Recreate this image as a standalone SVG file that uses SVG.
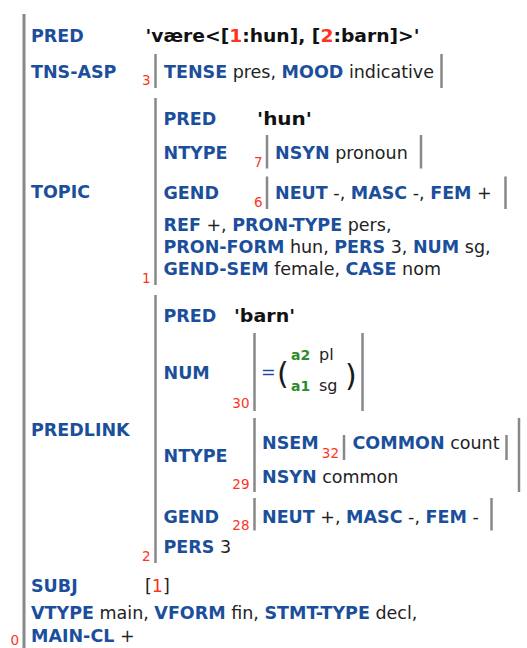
<svg xmlns="http://www.w3.org/2000/svg" width="527" height="648" viewBox="0 0 527 648">
<style>
text{font-family:"DejaVu Sans","Liberation Sans",sans-serif;font-size:17.5px;fill:#222}
.l{font-weight:bold;fill:#1b4f9c}
.p{font-weight:bold;font-size:18.5px;fill:#111}
.n{font-size:13.5px;fill:#ff3322}
.r{fill:#ff3322}
.g{font-weight:bold;font-size:14px;fill:#2e8b2e}
.bar{stroke:#888;stroke-width:2.5;fill:none}
.obar{stroke:#888;stroke-width:3;fill:none}
.par{font-size:30px;fill:#1a1a1a}
</style>
<rect width="527" height="648" fill="#fff"/>
<g id="f0">
  <line class="obar" x1="24" y1="14" x2="24" y2="648"/>
  <text class="n" x="19" y="645" text-anchor="end">0</text>
  <text x="31" y="41.5" class="l">PRED</text>
  <text x="145.5" y="41.5" class="p" textLength="274" lengthAdjust="spacingAndGlyphs">'være&lt;[<tspan class="r">1</tspan>:hun], [<tspan class="r">2</tspan>:barn]&gt;'</text>
  <text x="31" y="78" class="l">TNS-ASP</text>
  <text x="31" y="198" class="l">TOPIC</text>
  <text x="31" y="436" class="l">PREDLINK</text>
  <text x="31" y="592" class="l">SUBJ</text>
  <text x="145" y="592">[<tspan class="r">1</tspan>]</text>
  <text x="31" y="619"><tspan class="l">VTYPE</tspan> main, <tspan class="l">VFORM</tspan> fin, <tspan class="l">STMT-TYPE</tspan> decl,</text>
  <text x="31" y="641.5"><tspan class="l">MAIN-CL</tspan> +</text>
</g>
<g id="f3">
  <line class="bar" x1="155.5" y1="54" x2="155.5" y2="88"/>
  <line class="bar" x1="441.5" y1="54" x2="441.5" y2="88"/>
  <text class="n" x="150.5" y="85" text-anchor="end">3</text>
  <text x="164" y="78"><tspan class="l">TENSE</tspan> pres, <tspan class="l">MOOD</tspan> indicative</text>
</g>
<g id="f1">
  <line class="bar" x1="155.5" y1="98" x2="155.5" y2="285"/>
  <text class="n" x="150.5" y="283" text-anchor="end">1</text>
  <text x="163.5" y="125" class="l">PRED</text>
  <text x="257" y="125" class="p" textLength="55" lengthAdjust="spacingAndGlyphs">'hun'</text>
  <text x="163.5" y="158.5" class="l">NTYPE</text>
  <text x="163.5" y="198.5" class="l">GEND</text>
  <text x="163.5" y="231"><tspan class="l">REF</tspan> +, <tspan class="l">PRON-TYPE</tspan> pers,</text>
  <text x="163.5" y="253"><tspan class="l">PRON-FORM</tspan> hun, <tspan class="l">PERS</tspan> 3, <tspan class="l">NUM</tspan> sg,</text>
  <text x="163.5" y="275"><tspan class="l">GEND-SEM</tspan> female, <tspan class="l">CASE</tspan> nom</text>
</g>
<g id="f7">
  <line class="bar" x1="267" y1="135" x2="267" y2="168.5"/>
  <line class="bar" x1="421" y1="135" x2="421" y2="168.5"/>
  <text class="n" x="262.5" y="166.5" text-anchor="end">7</text>
  <text x="275" y="158.5"><tspan class="l">NSYN</tspan> pronoun</text>
</g>
<g id="f6">
  <line class="bar" x1="267" y1="176.5" x2="267" y2="209"/>
  <line class="bar" x1="505.5" y1="176.5" x2="505.5" y2="209"/>
  <text class="n" x="262.5" y="206.5" text-anchor="end">6</text>
  <text x="275" y="198.5"><tspan class="l">NEUT</tspan> -, <tspan class="l">MASC</tspan> -, <tspan class="l">FEM</tspan> +</text>
</g>
<g id="f2">
  <line class="bar" x1="155.5" y1="295" x2="155.5" y2="563"/>
  <text class="n" x="150.5" y="561" text-anchor="end">2</text>
  <text x="163.5" y="322" class="l">PRED</text>
  <text x="234" y="322" class="p" textLength="61" lengthAdjust="spacingAndGlyphs">'barn'</text>
  <text x="163.5" y="379" class="l">NUM</text>
  <text x="163.5" y="461.5" class="l">NTYPE</text>
  <text x="163.5" y="523" class="l">GEND</text>
  <text x="163.5" y="553"><tspan class="l">PERS</tspan> 3</text>
</g>
<g id="f30">
  <line class="bar" x1="254.5" y1="333" x2="254.5" y2="411"/>
  <line class="bar" x1="362.5" y1="333" x2="362.5" y2="411"/>
  <text class="n" x="249.5" y="408" text-anchor="end">30</text>
  <text x="261" y="378" style="fill:#1b4f9c">=</text>
  <text x="277" y="384" class="par">(</text>
  <text x="291" y="360" class="g">a2</text>
  <text x="319" y="360" style="font-size:16px">pl</text>
  <text x="291" y="391" class="g">a1</text>
  <text x="319" y="391" style="font-size:16px">sg</text>
  <text x="345" y="386" class="par">)</text>
</g>
<g id="f29">
  <line class="bar" x1="254.5" y1="418" x2="254.5" y2="492"/>
  <line class="bar" x1="519" y1="418" x2="519" y2="492"/>
  <text class="n" x="249.5" y="489" text-anchor="end">29</text>
  <text x="262" y="449" class="l">NSEM</text>
  <text x="262" y="482.5"><tspan class="l">NSYN</tspan> common</text>
</g>
<g id="f32">
  <line class="bar" x1="344" y1="435" x2="344" y2="460"/>
  <line class="bar" x1="506.5" y1="435" x2="506.5" y2="460"/>
  <text class="n" x="339" y="458" text-anchor="end">32</text>
  <text x="352.5" y="449"><tspan class="l">COMMON</tspan> count</text>
</g>
<g id="f28">
  <line class="bar" x1="254.5" y1="498" x2="254.5" y2="530.5"/>
  <line class="bar" x1="491.5" y1="498" x2="491.5" y2="530.5"/>
  <text class="n" x="249.5" y="530" text-anchor="end">28</text>
  <text x="262" y="522.5"><tspan class="l">NEUT</tspan> +, <tspan class="l">MASC</tspan> -, <tspan class="l">FEM</tspan> -</text>
</g>
<g id="connectors"></g>
</svg>
